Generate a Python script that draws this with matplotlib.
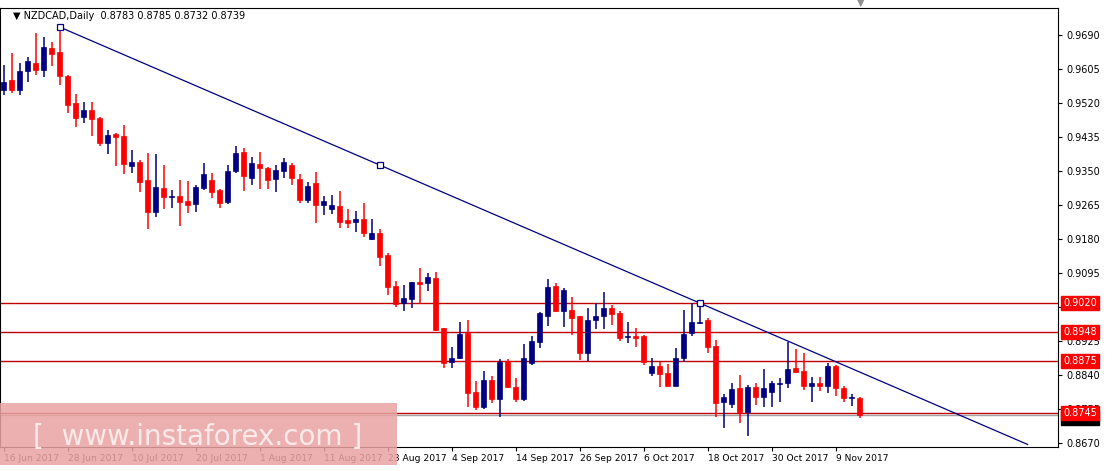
import matplotlib
matplotlib.use("Agg")
import matplotlib.pyplot as plt
import matplotlib.patches as mpatches
import numpy as np
import pandas as pd

opens = [.9553,.9578,.9553,.9600,.9620,.9603,.9658,.9648,.9588,.9520,.9485,.9503,.9483,.9420,.9443,.9438,.9363,.9373,.9328,.9248,
         .9308,.9285,.9288,.9275,.9268,.9308,.9328,.9303,.9273,.9350,.9398,.9333,.9368,.9358,.9330,.9350,.9365,.9330,.9278,.9320,
         .9265,.9255,.9263,.9228,.9223,.9230,.9180,.9195,.9140,.9063,.9020,.9030,.9073,.9070,.9083,.8958,.8873,.8883,.8945,.8798,
         .8760,.8828,.8780,.8875,.8810,.8780,.8870,.8923,.8988,.9063,.9000,.9003,.8988,.8895,.8978,.8988,.9008,.8995,.8935,.8938,
         .8938,.8845,.8863,.8845,.8813,.8883,.8945,.8970,.8978,.8913,.8773,.8768,.8808,.8748,.8810,.8785,.8798,.8818,.8820,.8858,
         .8850,.8813,.8820,.8813,.8863,.8808,.8783,.8783]
highs = [.9615,.9645,.9620,.9635,.9695,.9685,.9673,.9710,.9590,.9543,.9523,.9523,.9485,.9453,.9445,.9465,.9403,.9378,.9395,.9393,
         .9365,.9303,.9328,.9325,.9315,.9370,.9345,.9305,.9365,.9413,.9408,.9385,.9398,.9360,.9365,.9383,.9370,.9343,.9323,.9348,
         .9288,.9290,.9300,.9255,.9250,.9270,.9230,.9205,.9145,.9075,.9065,.9073,.9108,.9095,.9098,.8958,.8910,.8973,.8978,.8825,
         .8850,.8838,.8880,.8880,.8833,.8918,.8938,.8998,.9080,.9070,.9058,.9035,.8988,.9008,.9020,.9048,.9015,.9000,.8973,.8958,
         .8940,.8883,.8873,.8868,.8908,.9003,.9020,.9020,.8983,.8928,.8793,.8820,.8840,.8815,.8820,.8855,.8825,.8833,.8923,.8905,
         .8895,.8835,.8835,.8870,.8865,.8813,.8793,.8785]
lows = [.9540,.9545,.9540,.9572,.9590,.9585,.9613,.9565,.9495,.9460,.9470,.9438,.9413,.9393,.9363,.9343,.9345,.9298,.9205,.9235,
        .9255,.9258,.9213,.9245,.9248,.9303,.9283,.9258,.9268,.9345,.9300,.9315,.9305,.9305,.9298,.9333,.9315,.9270,.9270,.9220,
        .9240,.9243,.9208,.9208,.9198,.9185,.9178,.9113,.9040,.9010,.9000,.9008,.9018,.9050,.8950,.8858,.8858,.8880,.8760,.8753,
        .8755,.8770,.8735,.8808,.8773,.8775,.8865,.8908,.8963,.8998,.8960,.8940,.8878,.8875,.8955,.8955,.8965,.8925,.8920,.8910,
        .8865,.8838,.8810,.8813,.8813,.8873,.8938,.8968,.8895,.8735,.8708,.8758,.8720,.8688,.8765,.8760,.8760,.8773,.8808,.8845,
        .8803,.8773,.8800,.8795,.8788,.8773,.8763,.8732]
closes = [.9572,.9553,.9600,.9625,.9603,.9660,.9643,.9588,.9515,.9483,.9503,.9480,.9420,.9440,.9435,.9368,.9373,.9323,.9248,.9310,
          .9285,.9288,.9273,.9265,.9310,.9343,.9298,.9270,.9350,.9395,.9338,.9370,.9358,.9328,.9353,.9373,.9333,.9278,.9313,.9265,
          .9275,.9265,.9223,.9220,.9230,.9195,.9195,.9135,.9060,.9018,.9033,.9073,.9068,.9085,.8953,.8870,.8883,.8943,.8795,.8760,
          .8828,.8780,.8873,.8810,.8780,.8883,.8925,.8995,.9060,.9000,.9053,.8983,.8895,.8978,.8988,.9008,.8993,.8933,.8938,.8933,
          .8873,.8863,.8843,.8813,.8883,.8943,.8973,.8973,.8910,.8770,.8785,.8805,.8748,.8810,.8785,.8808,.8820,.8820,.8855,.8848,
          .8813,.8820,.8813,.8863,.8808,.8783,.8785,.8739]

levels = [0.9020, 0.8948, 0.8875, 0.8745]
last_price = 0.8739
price_ticks = [0.9690, 0.9605, 0.9520, 0.9435, 0.9350, 0.9265, 0.9180, 0.9095, 0.9010, 0.8925, 0.8840, 0.8755, 0.8670]
dates = pd.bdate_range("2017-06-16", periods=len(opens))
trend_p1 = (7, 0.9710)
trend_p2 = (87, 0.9020)
trend_end = 128

RED = "#ff0000"
BLUE = "#000080"
LVL = "#c00000"

fig = plt.figure(figsize=(11.19, 4.71), dpi=100)
ax = fig.add_axes([0.0, 1 - 447/471, 1058/1119, (447 - 8)/471])
ymin, ymax = 0.8660, 0.97575
ax.set_ylim(ymin, ymax)
ax.set_xlim(-0.45, 131.8)

for i, (o, h, l, c) in enumerate(zip(opens, highs, lows, closes)):
    col = BLUE if c >= o else RED
    ax.vlines(i, l, h, color=col, lw=1.1, zorder=3)
    bot, top = min(o, c), max(o, c)
    hgt = max(top - bot, 0.00012)
    ax.add_patch(mpatches.Rectangle((i - 0.32, bot), 0.64, hgt, facecolor=col, edgecolor=col, lw=0.5, zorder=4))

for lv in levels:
    ax.axhline(lv, color=LVL, lw=1.0, zorder=2)
ax.axhline(last_price, color="#a0a0a0", lw=1.0, zorder=2)

slope = (trend_p2[1] - trend_p1[1]) / (trend_p2[0] - trend_p1[0])
xs = np.array([trend_p1[0], trend_end])
ax.plot(xs, trend_p1[1] + slope * (xs - trend_p1[0]), color="#000080", lw=0.9, zorder=5)
mid = (trend_p1[0] + trend_p2[0]) / 2
for px in [trend_p1[0], mid, trend_p2[0]]:
    ax.plot(px, trend_p1[1] + slope * (px - trend_p1[0]), marker="s", ms=4.5, mfc="white", mec="#000080", mew=0.9, zorder=6)

ax.yaxis.tick_right()
ax.set_yticks(price_ticks)
ax.set_yticklabels([f"{t:.4f}" for t in price_ticks], fontsize=7)
ax.tick_params(axis="y", length=3, pad=3, color="black")
xt = list(range(0, len(dates), 8))
ax.set_xticks(xt)
ax.set_xticklabels([f"{dates[i].day} {dates[i].strftime('%b %Y')}" for i in xt], fontsize=6.6, ha="left")
ax.tick_params(axis="x", length=3, pad=2)
for s in ax.spines.values():
    s.set_color("black")
    s.set_linewidth(0.8)

for lv in levels:
    ax.text(1.005, lv, f"{lv:.4f}", transform=ax.get_yaxis_transform(), fontsize=7, color="white",
            va="center", ha="left", zorder=10,
            bbox=dict(boxstyle="square,pad=0.2", fc=RED, ec=RED), clip_on=False)
ax.text(1.005, last_price - 0.0006, f"{last_price:.4f}", transform=ax.get_yaxis_transform(), fontsize=7, color="white",
        va="center", ha="left", zorder=9, bbox=dict(boxstyle="square,pad=0.2", fc="black", ec="black"), clip_on=False)

ax.text(0.012, 0.993, "\u25bc NZDCAD,Daily  0.8783 0.8785 0.8732 0.8739", transform=ax.transAxes,
        fontsize=7, va="top", ha="left", color="black")
fig.text(861/1119, 1 - 3/471, "\u25bc", fontsize=7, color="#909090", ha="center", va="center")

fig.patches.append(mpatches.Rectangle((0, 1 - 465/471), 397/1119, 62/471, transform=fig.transFigure,
                                      facecolor="#e9a3a3", edgecolor="none", alpha=0.85, zorder=20))
fig.text(198/1119, 1 - 437/471, "[  www.instaforex.com ]", fontsize=20, color="#fbeaea", ha="center", va="center",
         zorder=21, family="DejaVu Sans")

fig.savefig("out.png", dpi=100, facecolor="white")
